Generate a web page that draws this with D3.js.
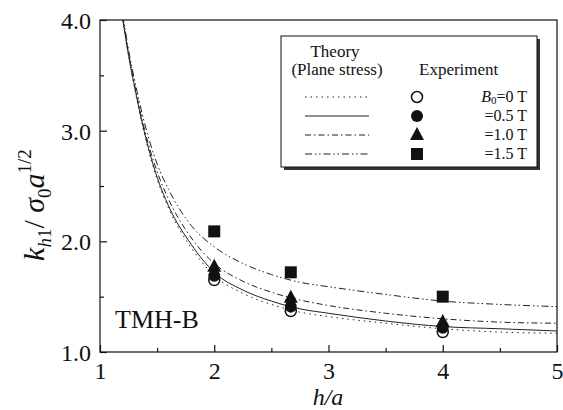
<!DOCTYPE html>
<html>
<head>
<meta charset="utf-8">
<script src="https://d3js.org/d3.v7.min.js"></script>
<style>
  body { margin: 0; background: #fff; }
  svg text { font-family: "Liberation Serif", "DejaVu Serif", serif; fill: #111; }
  .curve { fill: none; stroke: #222; stroke-width: 1; }
</style>
</head>
<body>
<div id="chart"></div>
<script>
// theory curves (plane stress)
const hx = [1.2, 1.25, 1.3, 1.4, 1.5, 1.6, 1.8, 2.0, 2.25, 2.5, 2.75, 3.0, 3.5, 4.0, 4.5, 5.0];
const theory0T  = [4.00, 3.68, 3.40, 2.92, 2.56, 2.30, 1.94, 1.69, 1.53, 1.43, 1.36, 1.32, 1.26, 1.21, 1.18, 1.17];
const theory05T = [4.00, 3.68, 3.41, 2.94, 2.58, 2.32, 1.97, 1.72, 1.56, 1.46, 1.39, 1.35, 1.28, 1.23, 1.21, 1.19];
const theory10T = [4.02, 3.70, 3.43, 2.97, 2.63, 2.38, 2.03, 1.80, 1.64, 1.54, 1.47, 1.42, 1.35, 1.30, 1.27, 1.26];
const theory15T = [4.05, 3.73, 3.47, 3.03, 2.70, 2.47, 2.14, 1.95, 1.80, 1.70, 1.63, 1.59, 1.52, 1.46, 1.43, 1.41];

// experiment
const expX = [2, 2.67, 4];
const exp0T  = [1.65, 1.37, 1.18];
const exp05T = [1.69, 1.41, 1.22];
const exp10T = [1.77, 1.49, 1.27];
const exp15T = [2.09, 1.72, 1.50];

const xTicks = [1, 2, 3, 4, 5];
const yTicks = [1.0, 2.0, 3.0, 4.0];
const legendLabels = ["=0 T", "=0.5 T", "=1.0 T", "=1.5 T"];

const W = 563, H = 410;
const svg = d3.select("#chart").append("svg").attr("width", W).attr("height", H);

const x = d3.scaleLinear().domain([1, 5]).range([100, 557]);
const y = d3.scaleLinear().domain([1, 4]).range([352, 20]);

svg.append("defs").append("clipPath").attr("id", "clip")
  .append("rect").attr("x", 100).attr("y", 20).attr("width", 457).attr("height", 332);

// frame
svg.append("rect").attr("x", 100).attr("y", 20).attr("width", 457).attr("height", 332)
  .attr("fill", "none").attr("stroke", "#111").attr("stroke-width", 1.2);

// ticks (inward)
const xAxis = svg.append("g").attr("transform", "translate(0,352)")
  .call(d3.axisBottom(x).tickValues(xTicks).tickSize(-7).tickFormat(d3.format("d")).tickPadding(10));
svg.append("g").attr("transform", "translate(0,352)")
  .call(d3.axisBottom(x).tickValues([1.5, 2.5, 3.5, 4.5]).tickSize(-4).tickFormat(""));
const yAxis = svg.append("g").attr("transform", "translate(100,0)")
  .call(d3.axisLeft(y).tickValues(yTicks).tickSize(-7).tickFormat(d3.format(".1f")).tickPadding(9));
svg.append("g").attr("transform", "translate(100,0)")
  .call(d3.axisLeft(y).tickValues([1.5, 2.5, 3.5]).tickSize(-4).tickFormat(""));
svg.selectAll(".domain").remove();
svg.selectAll("g").attr("font-family", null);
svg.selectAll(".tick line").attr("stroke", "#111").attr("stroke-width", 1.2);
svg.selectAll(".tick text").attr("font-size", 24);
xAxis.selectAll(".tick text").attr("dy", "0.72em");
yAxis.selectAll(".tick text").attr("dy", "0.35em");

// axis titles
svg.append("text").attr("x", 328).attr("y", 405).attr("text-anchor", "middle")
  .attr("font-size", 24).attr("font-style", "italic").text("h/a");

const yt = svg.append("text").attr("transform", "translate(44,205) rotate(-90)")
  .attr("text-anchor", "middle").attr("font-size", 30);
yt.append("tspan").attr("font-style", "italic").text("k");
yt.append("tspan").attr("font-style", "italic").attr("font-size", 19).attr("dy", 7).text("h");
yt.append("tspan").attr("font-size", 19).text("1");
yt.append("tspan").attr("dy", -7).text("/ ");
yt.append("tspan").attr("font-style", "italic").text("σ");
yt.append("tspan").attr("font-size", 19).attr("dy", 7).text("0");
yt.append("tspan").attr("font-style", "italic").attr("dy", -7).text("a");
yt.append("tspan").attr("font-size", 19).attr("dy", -13).text("1/2");

// TMH-B
svg.append("text").attr("x", 115).attr("y", 328).attr("font-size", 26).text("TMH-B");

// curves
const dashes = ["1.5,4", null, "6,3,1.5,3", "7,3,1.5,2.5,1.5,3"];
const curves = [theory0T, theory05T, theory10T, theory15T];
const line = d3.line().x(d => x(d[0])).y(d => y(d[1])).curve(d3.curveMonotoneX);
const cg = svg.append("g").attr("clip-path", "url(#clip)");
curves.forEach((c, i) => {
  cg.append("path").attr("class", "curve")
    .attr("d", line(hx.map((h, j) => [h, c[j]])))
    .attr("stroke-dasharray", dashes[i]);
});

// markers
function marker(g, kind, cx, cy) {
  if (kind === 0) g.append("circle").attr("cx", cx).attr("cy", cy).attr("r", 5.5)
    .attr("fill", "#fff").attr("stroke", "#111").attr("stroke-width", 1.5);
  else if (kind === 1) g.append("circle").attr("cx", cx).attr("cy", cy).attr("r", 6).attr("fill", "#111");
  else if (kind === 2) g.append("path").attr("transform", `translate(${cx},${cy})`)
    .attr("d", "M0,-8L7,5L-7,5Z").attr("fill", "#111");
  else g.append("rect").attr("x", cx - 6).attr("y", cy - 6).attr("width", 12).attr("height", 12).attr("fill", "#111");
}
const exps = [exp0T, exp05T, exp10T, exp15T];
const mg = svg.append("g");
exps.forEach((e, i) => expX.forEach((h, j) => marker(mg, i, x(h), y(e[j]))));

// legend
const lg = svg.append("g");
lg.append("rect").attr("x", 284).attr("y", 39).attr("width", 256).attr("height", 131).attr("fill", "#333");
lg.append("rect").attr("x", 281).attr("y", 36).attr("width", 256).attr("height", 131)
  .attr("fill", "#fff").attr("stroke", "#111").attr("stroke-width", 1);
lg.append("text").attr("x", 335).attr("y", 57).attr("text-anchor", "middle").attr("font-size", 17).text("Theory");
lg.append("text").attr("x", 337).attr("y", 75).attr("text-anchor", "middle").attr("font-size", 17).text("(Plane stress)");
lg.append("text").attr("x", 419).attr("y", 75).attr("font-size", 17).text("Experiment");
const rowY = [97, 116, 135, 154];
rowY.forEach((ry, i) => {
  lg.append("line").attr("x1", 305).attr("x2", 369).attr("y1", ry).attr("y2", ry)
    .attr("class", "curve").attr("stroke-dasharray", dashes[i]);
  marker(lg, i, 417, ry);
  const t = lg.append("text").attr("x", 527).attr("y", ry + 5).attr("text-anchor", "end").attr("font-size", 16);
  if (i === 0) {
    t.append("tspan").attr("font-style", "italic").text("B");
    t.append("tspan").attr("font-size", 11).attr("dy", 2).text("0");
    t.append("tspan").attr("dy", -2).text(legendLabels[i]);
  } else t.text(legendLabels[i]);
});
</script>
</body>
</html>
